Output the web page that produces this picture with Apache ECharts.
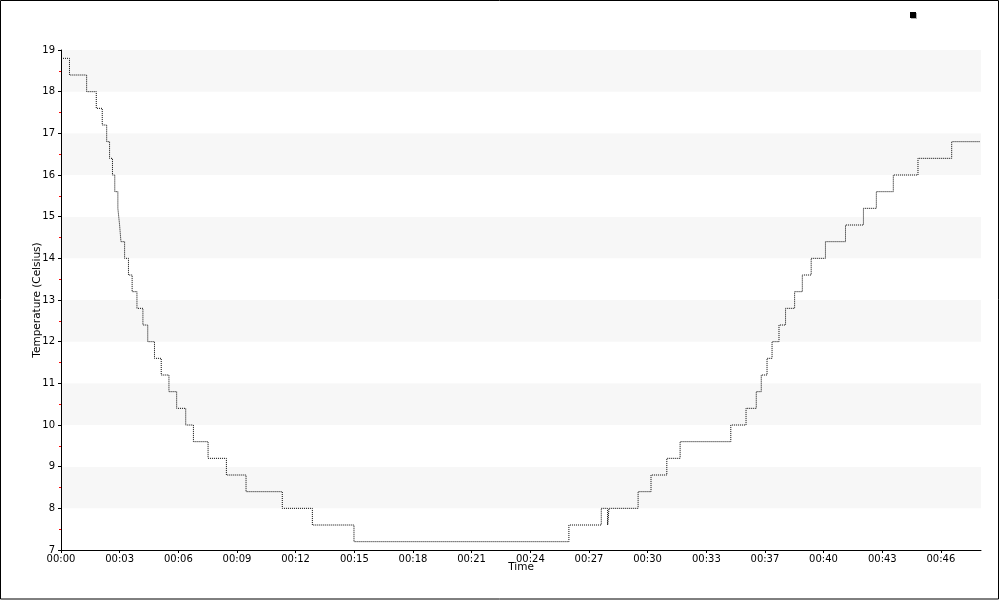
<!DOCTYPE html>
<html>
<head>
<meta charset="utf-8">
<script src="https://cdn.jsdelivr.net/npm/echarts@6/dist/echarts.min.js"></script>
<style>
  html, body { margin: 0; padding: 0; background: #fff; }
  #chart { width: 1000px; height: 600px; }
</style>
</head>
<body>
<div id="chart"></div>
<script>
// Time in minutes since start, temperature in Celsius (value holds until next point)
const timeMinutes = [
  0.00, 0.44, 1.33, 1.83, 2.14, 2.37, 2.52, 2.67, 2.79, 2.95, 3.04, 3.11, 3.30, 3.50,
  3.69, 3.94, 4.25, 4.50, 4.85, 5.20, 5.60, 6.00, 6.47, 6.87, 7.63, 8.58, 9.60, 11.48,
  13.04, 15.20, 26.35, 28.03, 28.36, 28.43, 29.94, 30.61, 31.43, 32.12, 34.75, 35.54,
  36.07, 36.33, 36.63, 36.89, 37.25, 37.59, 38.06, 38.46, 38.92, 39.66, 40.70, 41.63,
  42.30, 43.18, 44.46, 46.21, 47.68
];
const temperature = [
  18.8, 18.4, 18.0, 17.6, 17.2, 16.8, 16.4, 16.0, 15.6, 15.2, 14.8, 14.4, 14.0, 13.6,
  13.2, 12.8, 12.4, 12.0, 11.6, 11.2, 10.8, 10.4, 10.0, 9.6, 9.2, 8.8, 8.4, 8.0,
  7.6, 7.2, 7.6, 8.0, 7.6, 8.0, 8.4, 8.8, 9.2, 9.6, 10.0, 10.4,
  10.8, 11.2, 11.6, 12.0, 12.4, 12.8, 13.2, 13.6, 14.0, 14.4, 14.8, 15.2,
  15.6, 16.0, 16.4, 16.8, 16.8
];
const xTickValues = [0, 3.04, 6.09, 9.13, 12.17, 15.22, 18.26, 21.30, 24.35, 27.39, 30.43, 33.48, 36.52, 39.56, 42.61, 45.65];
const xTickLabels = ['00:00','00:03','00:06','00:09','00:12','00:15','00:18','00:21','00:24','00:27','00:30','00:33','00:37','00:40','00:43','00:46'];
const xMax = 47.73;
const yMin = 7, yMax = 19;
const seriesName = 'Temperature';

const font = '"DejaVu Sans", sans-serif';
const chart = echarts.init(document.getElementById('chart'), null, { renderer: 'canvas' });

function labelFor(v) {
  let best = 0, bd = Infinity;
  xTickValues.forEach((t, i) => { const d = Math.abs(t - v); if (d < bd) { bd = d; best = i; } });
  return xTickLabels[best];
}

chart.setOption({
  animation: false,
  backgroundColor: '#fff',
  graphic: [{
    type: 'rect', z: 100, silent: true,
    shape: { x: 0.5, y: 0.5, width: 998, height: 598.5 },
    style: { fill: 'none', stroke: '#000', lineWidth: 1 }
  }],
  legend: {
    left: 910, top: 12, padding: 0,
    icon: 'rect', itemWidth: 6, itemHeight: 6,
    formatter: () => '',
    data: [{ name: seriesName, itemStyle: { color: '#000', shadowColor: 'rgba(0,0,0,0.3)', shadowOffsetX: 1, shadowOffsetY: 1 } }]
  },
  grid: { left: 61, right: 19, top: 50, bottom: 50, containLabel: false },
  xAxis: {
    type: 'value', min: 0, max: xMax,
    name: 'Time', nameLocation: 'middle', nameGap: 12, nameMoveOverlap: false,
    nameTextStyle: { fontFamily: font, fontSize: 10.5, color: '#000', verticalAlign: 'top' },
    axisLine: { show: true, lineStyle: { color: '#000', width: 1 } },
    axisTick: { show: true, length: 3, customValues: xTickValues, lineStyle: { color: '#000' } },
    axisLabel: {
      customValues: xTickValues, margin: 4,
      fontFamily: font, fontSize: 10, color: '#000',
      formatter: labelFor
    },
    splitLine: { show: false }
  },
  yAxis: {
    type: 'value', min: yMin, max: yMax, interval: 1,
    name: 'Temperature (Celsius)', nameLocation: 'middle', nameGap: 18, nameRotate: 90, nameMoveOverlap: false,
    nameTextStyle: { fontFamily: font, fontSize: 10.5, color: '#000' },
    axisLine: { show: true, lineStyle: { color: '#000', width: 1 } },
    axisTick: { show: true, length: 3, lineStyle: { color: '#000' } },
    minorTick: { show: true, splitNumber: 2, length: 2, lineStyle: { color: '#ff0000' } },
    axisLabel: { margin: 6, fontFamily: font, fontSize: 10, color: '#000' },
    splitLine: { show: false },
    splitArea: { show: true, areaStyle: { color: ['#ffffff', '#f7f7f7'] } }
  },
  series: [{
    name: seriesName,
    type: 'line',
    step: 'end',
    symbol: 'none',
    color: '#000',
    lineStyle: { color: '#000', width: 1, type: [1, 1] },
    data: timeMinutes.map((t, i) => [t, temperature[i]])
  }]
});
</script>
</body>
</html>
